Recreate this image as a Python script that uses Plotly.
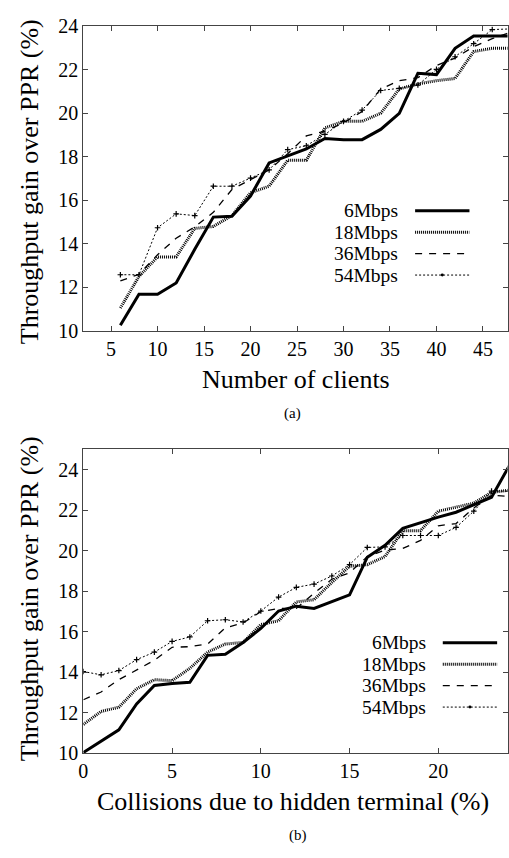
import plotly.graph_objects as go

# ---------------- data (a) ----------------
clients = [6, 8, 10, 12, 14, 16, 18, 20, 22, 24, 26, 28, 30, 32, 34, 36, 38, 40, 42, 44, 46, 48]
a_6 = [10.26, 11.68, 11.68, 12.20, 13.75, 15.23, 15.27, 16.20, 17.72, 18.03, 18.36, 18.84, 18.79, 18.79,
       19.26, 20.0, 21.84, 21.78, 22.99, 23.55, 23.55, 23.55]
a_18 = [11.05, 12.5, 13.4, 13.4, 14.71, 14.8, 15.3, 16.35, 16.65, 17.84, 17.84, 19.33, 19.63, 19.63,
        20.0, 21.12, 21.35, 21.5, 21.6, 22.84, 22.99, 22.99]
a_36 = [12.3, 12.6, 13.5, 14.26, 14.78, 15.45, 16.5, 16.95, 17.4, 18.14, 18.96, 19.18, 19.56, 20.08,
        21.12, 21.5, 21.64, 22.2, 22.54, 23.06, 23.43, 23.73]
a_54 = [12.58, 12.58, 14.74, 15.38, 15.3, 16.65, 16.65, 17.02, 17.4, 18.33, 18.51, 19.03, 19.63, 20.15,
        21.05, 21.15, 21.3, 22.02, 22.6, 23.2, 23.85, 23.88]

# ---------------- data (b) ----------------
collisions = list(range(0, 25))
b_6 = [10.03, 10.59, 11.15, 12.43, 13.34, 13.44, 13.5, 14.83, 14.88, 15.47, 16.16, 17.02, 17.26, 17.15,
       17.47, 17.82, 19.68, 20.27, 21.1, 21.39, 21.66, 21.9, 22.27, 22.64, 24.2]
b_18 = [11.42, 12.06, 12.27, 13.18, 13.63, 13.58, 14.19, 14.99, 15.39, 15.47, 16.35, 16.54, 17.47, 17.58,
        18.43, 19.23, 19.31, 19.71, 20.99, 20.99, 21.95, 22.14, 22.35, 22.88, 22.99]
b_36 = [12.64, 13.02, 13.63, 14.11, 14.59, 15.23, 15.26, 15.39, 16.19, 16.43, 16.99, 17.15, 17.15, 17.9,
        18.59, 18.91, 19.71, 20.03, 20.11, 20.51, 21.23, 21.34, 22.11, 22.75, 22.67]
b_54 = [14.03, 13.87, 14.08, 14.62, 14.99, 15.52, 15.74, 16.54, 16.59, 16.48, 17.02, 17.71, 18.19, 18.35,
        18.75, 19.31, 20.16, 20.19, 20.75, 20.75, 20.75, 21.15, 21.95, 22.94, 22.94]

series_names = ["6Mbps", "18Mbps", "36Mbps", "54Mbps"]
a_xticks = [5, 10, 15, 20, 25, 30, 35, 40, 45]
b_xticks = [0, 5, 10, 15, 20]
yticks = [10, 12, 14, 16, 18, 20, 22, 24]

W, H = 509, 858
FONT = "Liberation Serif"

styles = [
    dict(line=dict(color="black", width=3, dash="solid"), mode="lines"),
    dict(line=dict(color="black", width=3, dash="1px,1px"), mode="lines"),
    dict(line=dict(color="black", width=1.3, dash="7px,7px"), mode="lines"),
    dict(line=dict(color="black", width=1, dash="2px,2px"), mode="lines+markers",
         marker=dict(symbol="cross-thin", size=4, line=dict(color="black", width=1.2), color="black")),
]

fig = go.Figure()
for name, ys, st in zip(series_names, [a_6, a_18, a_36, a_54], styles):
    fig.add_trace(go.Scatter(x=clients, y=ys, name=name, xaxis="x", yaxis="y", showlegend=False, **st))
for name, ys, st in zip(series_names, [b_6, b_18, b_36, b_54], styles):
    fig.add_trace(go.Scatter(x=collisions, y=ys, name=name, xaxis="x2", yaxis="y2", showlegend=False, **st))

def px(x):
    return x / W

def py(y):
    return (H - y) / H

left, right = 79.3, 508.5
axis_common = dict(showline=True, linecolor="#444", linewidth=1, mirror="allticks", ticks="inside",
                   ticklen=5, tickcolor="#444", showgrid=False, zeroline=False,
                   tickfont=dict(family=FONT, size=20, color="black"))

fig.update_layout(
    width=W, height=H, margin=dict(l=0, r=0, t=0, b=0),
    paper_bgcolor="white", plot_bgcolor="white", showlegend=False,
    font=dict(family=FONT, color="black"),
    xaxis=dict(domain=[px(left), px(right)], range=[2.02, 47.64], tickvals=a_xticks, anchor="y", **axis_common),
    yaxis=dict(domain=[py(328.3), py(15.7)], range=[10, 24], tickvals=yticks, anchor="x", **axis_common),
    xaxis2=dict(domain=[px(left), px(right)], range=[0, 23.9], tickvals=b_xticks, anchor="y2", **axis_common),
    yaxis2=dict(domain=[py(761.7), py(450)], range=[10, 25], tickvals=yticks, anchor="x2", **axis_common),
)

ann = []
def text(x, y, s, size, xanchor="center", angle=0):
    ann.append(dict(x=px(x), y=py(y), xref="paper", yref="paper", text=s, showarrow=False,
                    xanchor=xanchor, yanchor="middle", textangle=angle,
                    font=dict(family=FONT, size=size, color="black")))

text(294.5, 378, "Number of clients", 26)
text(291.7, 811, "Collisions due to hidden terminal (%)", 26)
text(25, 175, "Throughput gain over PPR (%)", 26, angle=-90)
text(25, 603, "Throughput gain over PPR (%)", 26, angle=-90)
text(291, 413, "(a)", 15)
text(297, 846, "(b)", 15)

# manual gnuplot-style legends (text left, sample right)
shapes = []
def legend(text_right, x0, x1, rows):
    for name, y, st in zip(series_names, rows, styles):
        text(text_right, y, name, 19.5, xanchor="right")
        ln = st["line"]
        shapes.append(dict(type="line", xref="paper", yref="paper", x0=px(x0), x1=px(x1),
                           y0=py(y), y1=py(y), line=dict(color="black", width=ln["width"], dash=ln["dash"])))
        if st["mode"] == "lines+markers":
            xm = (x0 + x1) / 2
            shapes.append(dict(type="circle", xref="paper", yref="paper", x0=px(xm - 1.5), x1=px(xm + 1.5),
                               y0=py(y + 1.5), y1=py(y - 1.5), fillcolor="black", line=dict(width=0)))

legend(400, 415, 470, [205, 227, 249, 271])
legend(428, 443, 498, [648.4, 670.4, 692.4, 714.4])

fig.update_layout(annotations=ann, shapes=shapes)
# remove the default 8px page margin so the 509x858 figure fills the window exactly
fig.write_html("out.html", config={"displayModeBar": False},
               post_script="document.body.style.margin='0';document.body.style.overflow='hidden';")
